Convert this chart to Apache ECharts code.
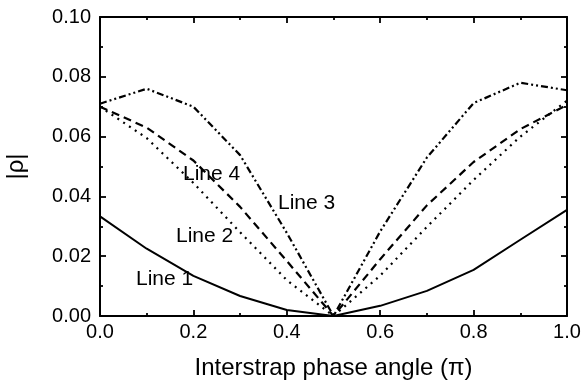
<!DOCTYPE html>
<html>
<head>
<meta charset="utf-8" />
<title>Interstrap phase angle</title>
<script src="https://cdn.jsdelivr.net/npm/echarts@6/dist/echarts.min.js"></script>
<style>
  html, body { margin: 0; padding: 0; background: #fff; }
  #chartmain { width: 587px; height: 380px; }
</style>
</head>
<body>
<div id="chartmain"></div>
<script type="text/javascript">
// phase angle (units of pi)
var phase = [0.0, 0.1, 0.2, 0.3, 0.4, 0.5, 0.6, 0.7, 0.8, 0.9, 1.0];
// |rho| for each line
var line1 = [0.0333, 0.0225, 0.0134, 0.0067, 0.0020, 0.0, 0.0034, 0.0084, 0.0154, 0.0255, 0.0355];
var line2 = [0.0700, 0.0595, 0.0445, 0.0280, 0.0120, 0.0, 0.0135, 0.0298, 0.0455, 0.0600, 0.0720];
var line3 = [0.0710, 0.0760, 0.0700, 0.0538, 0.0278, 0.0, 0.0283, 0.0530, 0.0712, 0.0780, 0.0755];
var line4 = [0.0700, 0.0630, 0.0520, 0.0365, 0.0184, 0.0, 0.0190, 0.0370, 0.0515, 0.0625, 0.0706];
var xTicks = [0.0, 0.2, 0.4, 0.6, 0.8, 1.0];
var yTicks = [0.00, 0.02, 0.04, 0.06, 0.08, 0.10];

function pairs(ys) {
  var out = [];
  for (var i = 0; i < phase.length; i++) out.push([phase[i], ys[i]]);
  return out;
}

var font = 'Liberation Sans, Arial, sans-serif';
var axisLine = { show: true, onZero: false, lineStyle: { color: '#000', width: 2 } };
var tick = { show: true, inside: true, length: 6, lineStyle: { color: '#000', width: 1.8 } };
var minor = { show: true, splitNumber: 2, length: 3, lineStyle: { color: '#000', width: 1.8 } };

function mkLine(name, ys, type, w) {
  return {
    name: name,
    type: 'line',
    data: pairs(ys),
    symbol: 'none',
    xAxisIndex: 0,
    yAxisIndex: 0,
    lineStyle: { color: '#000', width: w, type: type },
    animation: false,
    z: 3
  };
}

var myChart = echarts.init(document.getElementById('chartmain'), null, { renderer: 'canvas' });
var option = {
  backgroundColor: '#fff',
  animation: false,
  grid: { left: 100, right: 20, top: 17, bottom: 64, containLabel: false, outerBoundsMode: 'none' },
  xAxis: [
    {
      type: 'value', min: 0, max: 1, interval: 0.2,
      name: 'Interstrap phase angle (\u03c0)',
      nameLocation: 'middle', nameGap: 40,
      nameTextStyle: { color: '#000', fontSize: 24, fontFamily: font },
      axisLine: axisLine, axisTick: tick, minorTick: minor,
      splitLine: { show: false },
      axisLabel: {
        color: '#000', fontSize: 20, fontFamily: font, margin: 6,
        formatter: function (v) { return xTicks.indexOf(+v.toFixed(1)) >= 0 ? v.toFixed(1) : ''; }
      }
    },
    {
      type: 'value', min: 0, max: 1, interval: 0.2, position: 'top',
      axisLine: axisLine, axisTick: tick, minorTick: minor,
      splitLine: { show: false }, axisLabel: { show: false }
    }
  ],
  yAxis: [
    {
      type: 'value', min: 0, max: 0.1, interval: 0.02,
      name: '|\u03c1|',
      nameLocation: 'middle', nameGap: 72, nameRotate: 90,
      nameTextStyle: { color: '#000', fontSize: 24, fontFamily: font },
      axisLine: axisLine, axisTick: tick, minorTick: minor,
      splitLine: { show: false },
      axisLabel: {
        color: '#000', fontSize: 20, fontFamily: font, margin: 9,
        formatter: function (v) { return v.toFixed(2); }
      }
    },
    {
      type: 'value', min: 0, max: 0.1, interval: 0.02, position: 'right',
      axisLine: axisLine, axisTick: tick, minorTick: minor,
      splitLine: { show: false }, axisLabel: { show: false }
    }
  ],
  series: [
    mkLine('Line 1', line1, 'solid', 2),
    mkLine('Line 2', line2, [2, 5], 2.2),
    mkLine('Line 3', line3, [7, 3, 2, 3, 2, 3], 2.2),
    mkLine('Line 4', line4, [8, 5], 2.2)
  ],
  graphic: [
    { type: 'text', left: 183, top: 164, style: { text: 'Line 4', fill: '#000', font: '21px ' + font } },
    { type: 'text', left: 278, top: 193, style: { text: 'Line 3', fill: '#000', font: '21px ' + font } },
    { type: 'text', left: 176, top: 226, style: { text: 'Line 2', fill: '#000', font: '21px ' + font } },
    { type: 'text', left: 136, top: 269, style: { text: 'Line 1', fill: '#000', font: '21px ' + font } }
  ]
};
myChart.setOption(option);
</script>
</body>
</html>
